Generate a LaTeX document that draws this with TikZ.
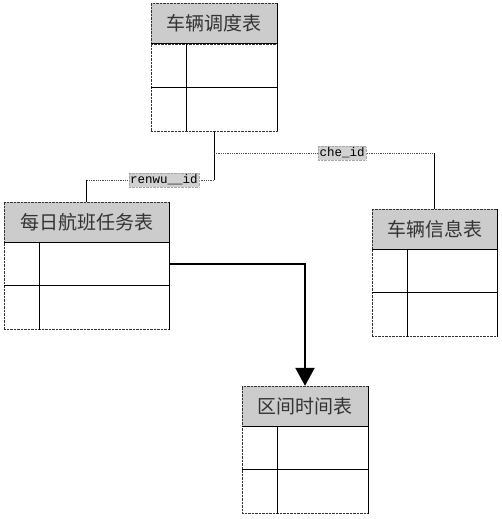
\documentclass[tikz,border=0pt]{standalone}
\usepackage{fontspec}
\setmonofont{Liberation Mono}
\newfontfamily\cjk{Noto Sans CJK SC}
\usetikzlibrary{
    arrows.meta,
    positioning,
    calc
}

\begin{document}
\begin{tikzpicture}[
        x=1pt, y=-1pt,
        header/.style={
            rectangle,
            draw=black!80,
            densely dotted,
            fill=black!20,
            minimum height=40pt,
            inner sep=0pt,
            text=black!80,
            font=\cjk\fontsize{19pt}{21pt}\selectfont
        },
        tbody/.style={
            rectangle,
            draw=black!80,
            densely dotted,
            fill=white,
            minimum height=87pt,
            inner sep=0pt
        },
        divider/.style={
            draw=black,
            line width=0.9pt
        },
        keylabel/.style={
            rectangle,
            draw=black!35,
            densely dotted,
            fill=black!18,
            inner sep=1.5pt,
            text=black,
            font=\ttfamily\fontsize{12.5pt}{14pt}\selectfont
        },
        link/.style={
            draw=black!70,
            densely dotted,
            line width=0.8pt
        },
        drop/.style={
            draw=black,
            line width=0.8pt
        },
        flow/.style={
            -{Triangle[length=18pt,width=19pt]},
            line width=2.2pt,
            draw=black
        }
    ]

    \useasboundingbox (0,0) rectangle (502,519);

    % tables
    \node[header, minimum width=126pt] (dispatch) at (214,23.5) {车辆调度表};
    \node[tbody, minimum width=126pt, below=0pt of dispatch] (dispatchbody) {};

    \node[header, minimum width=165pt] (task) at (86.5,222) {每日航班任务表};
    \node[tbody, minimum width=165pt, below=0pt of task] (taskbody) {};

    \node[header, minimum width=125pt] (vehicle) at (434.5,229) {车辆信息表};
    \node[tbody, minimum width=125pt, below=0pt of vehicle] (vehiclebody) {};

    \node[header, minimum width=126pt] (interval) at (305,406) {区间时间表};
    \node[tbody, minimum width=126pt, below=0pt of interval] (intervalbody) {};

    % grid lines
    \foreach \t in {dispatch,task,vehicle,interval} {
        \draw[divider] (\t.south west) -- (\t.south east);
        \draw[divider] (\t.north east) -- (\t body.south east);
        \draw[divider] (\t body.west) -- (\t body.east);
        \draw[divider] ($(\t body.north west)+(36,0)$)
            -- ($(\t body.south west)+(36,0)$);
    }

    % key links
    \coordinate (cheturn) at (214,153);
    \coordinate (renturn) at (214,180);

    \draw[drop] (dispatchbody.south) -- (renturn);
    \draw[link] (cheturn) -- (cheturn -| vehicle.north);
    \draw[drop] (cheturn -| vehicle.north) -- (vehicle.north);
    \draw[link] (renturn) -- (renturn -| task.north);
    \draw[drop] (renturn -| task.north) -- (task.north);

    \node[keylabel] (chelabel) at (342,153) {che\_id};
    \node[keylabel] (renlabel) at (164,180) {renwu\_\_id};

    % flow to interval table
    \coordinate (taskout) at ($(taskbody.north east)+(0,22)$);
    \draw[flow] (taskout) -| (interval.north);

\end{tikzpicture}
\end{document}
